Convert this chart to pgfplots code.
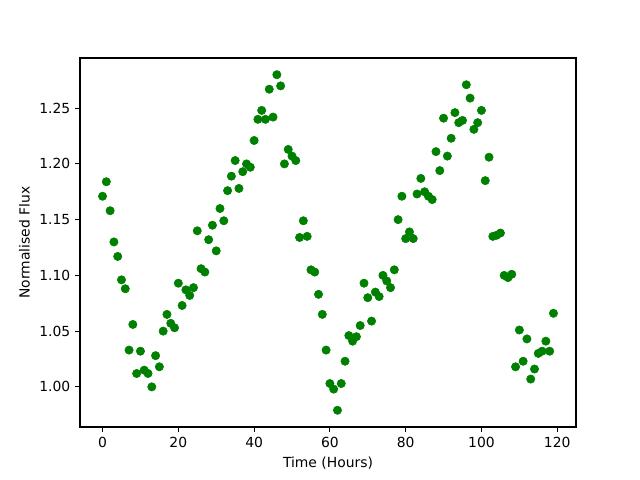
\documentclass[border=0pt]{standalone}
\usepackage{pgfplots}
\pgfplotsset{compat=1.18}
\usepackage{fontspec}
\setmainfont{DejaVu Sans}
\definecolor{mplgreen}{RGB}{0,128,0}
\begin{document}
\begin{tikzpicture}
\begin{axis}[
  at={(0,0)}, anchor=south west,
  scale only axis,
  width=357.12pt, height=265.68pt,
  xmin=-5.95, xmax=124.95,
  ymin=0.964, ymax=1.295,
  xtick={0,20,40,60,80,100,120},
  ytick={1.00,1.05,1.10,1.15,1.20,1.25},
  yticklabel style={/pgf/number format/.cd,fixed,fixed zerofill,precision=2},
  /pgf/number format/assume math mode=true,
  tick align=outside,
  major tick length=3.5pt,
  xtick pos=bottom, ytick pos=left,
  tick label style={font=\fontsize{10}{12}\selectfont},
  label style={font=\fontsize{10}{12}\selectfont},
  xlabel={Time (Hours)},
  ylabel={Normalised Flux},
  axis line style={line width=0.8pt},
  every tick/.style={line width=0.8pt, black},
]
\addplot[only marks, mark=*, mark size=3pt, mplgreen, mark options={draw=mplgreen, fill=mplgreen}] table {
x y
0 1.171
1 1.184
2 1.158
3 1.130
4 1.117
5 1.096
6 1.088
7 1.033
8 1.056
9 1.012
10 1.032
11 1.015
12 1.012
13 1.000
14 1.028
15 1.018
16 1.050
17 1.065
18 1.057
19 1.053
20 1.093
21 1.073
22 1.087
23 1.082
24 1.089
25 1.140
26 1.106
27 1.103
28 1.132
29 1.145
30 1.122
31 1.160
32 1.149
33 1.176
34 1.189
35 1.203
36 1.178
37 1.193
38 1.200
39 1.197
40 1.221
41 1.240
42 1.248
43 1.240
44 1.267
45 1.242
46 1.280
47 1.270
48 1.200
49 1.213
50 1.207
51 1.203
52 1.134
53 1.149
54 1.135
55 1.105
56 1.103
57 1.083
58 1.065
59 1.033
60 1.003
61 0.998
62 0.979
63 1.003
64 1.023
65 1.046
66 1.041
67 1.045
68 1.055
69 1.093
70 1.080
71 1.059
72 1.085
73 1.081
74 1.100
75 1.095
76 1.089
77 1.105
78 1.150
79 1.171
80 1.133
81 1.139
82 1.133
83 1.173
84 1.187
85 1.175
86 1.171
87 1.168
88 1.211
89 1.194
90 1.241
91 1.207
92 1.223
93 1.246
94 1.237
95 1.239
96 1.271
97 1.259
98 1.231
99 1.237
100 1.248
101 1.185
102 1.206
103 1.135
104 1.136
105 1.138
106 1.100
107 1.098
108 1.101
109 1.018
110 1.051
111 1.023
112 1.043
113 1.007
114 1.016
115 1.030
116 1.032
117 1.041
118 1.032
119 1.066
};
\end{axis}
\useasboundingbox (-57.6pt,-38.16pt) rectangle (403.2pt,307.44pt);
\end{tikzpicture}
\end{document}
